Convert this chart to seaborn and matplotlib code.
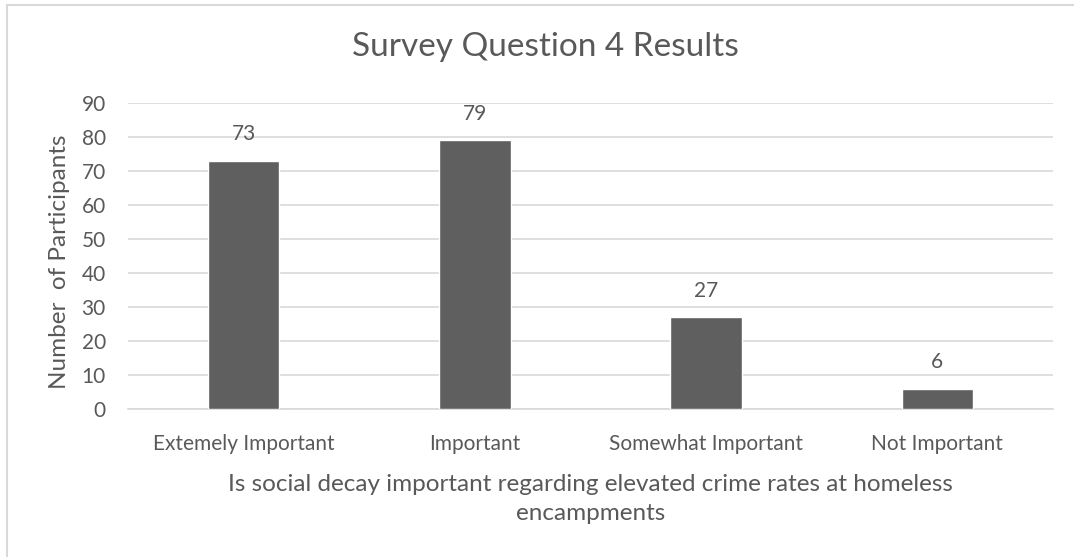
import matplotlib
matplotlib.use("Agg")
import matplotlib.pyplot as plt
from matplotlib.patches import Rectangle
import seaborn as sns
import pandas as pd

categories = ["Extemely Important", "Important", "Somewhat Important", "Not Important"]
participants = [73, 79, 27, 6]
y_ticks = [0, 10, 20, 30, 40, 50, 60, 70, 80, 90]

title = "Survey Question 4 Results"
x_title = "Is social decay important regarding elevated crime rates at homeless\nencampments"
y_title = "Number  of Participants"

sns.set_theme(style="white")
plt.rcParams["font.family"] = ["Lato", "DejaVu Sans"]

text_color = "#595959"
bar_color = "#5f5f5f"
grid_color = "#d9d9d9"

df = pd.DataFrame({"category": categories, "count": participants})

W, H = 1074, 557
fig = plt.figure(figsize=(W / 100, H / 100), dpi=100)
ax = fig.add_axes([128 / W, 1 - 409 / H, (1053 - 128) / W, (409 - 103) / H])

sns.barplot(data=df, x="category", y="count", color=bar_color, width=0.31,
            saturation=1, ax=ax, zorder=3)

ax.set_ylim(0, 90)
ax.set_yticks(y_ticks)
ax.set_xlim(-0.5, len(categories) - 0.5)
ax.grid(axis="y", color=grid_color, linewidth=1.2, zorder=0)
ax.grid(axis="x", visible=False)
for side in ["top", "right", "left"]:
    ax.spines[side].set_visible(False)
ax.spines["bottom"].set_color(grid_color)
ax.spines["bottom"].set_linewidth(1.2)
ax.tick_params(axis="both", length=0, labelsize=15, colors=text_color)
ax.tick_params(axis="y", pad=16)
ax.tick_params(axis="x", pad=18)

for p, v in zip(ax.patches, participants):
    ax.annotate(str(v), (p.get_x() + p.get_width() / 2, v), xytext=(0, 19),
                textcoords="offset points", ha="center", va="center",
                fontsize=15, color=text_color)

ax.set_xlabel(x_title, fontsize=17.5, color=text_color, linespacing=1.45)
ax.set_ylabel(y_title, fontsize=17.5, color=text_color)
ax.yaxis.set_label_coords(-(128 - 60) / 925, 0.48)
ax.xaxis.set_label_coords(0.5, -(499 - 409) / 306)
ax.xaxis.label.set_verticalalignment("center")
ax.yaxis.label.set_verticalalignment("center")

fig.text(545 / W, 1 - 47 / H, title, ha="center", va="center",
         fontsize=24, color=text_color)

# chart frame
fig.patches.append(Rectangle((7.5 / W, -0.1), 1.2, 1 - 4.5 / H + 0.1,
                             transform=fig.transFigure, fill=False,
                             edgecolor="#d9d9d9", linewidth=1.5))

fig.savefig("out.png", dpi=100)
